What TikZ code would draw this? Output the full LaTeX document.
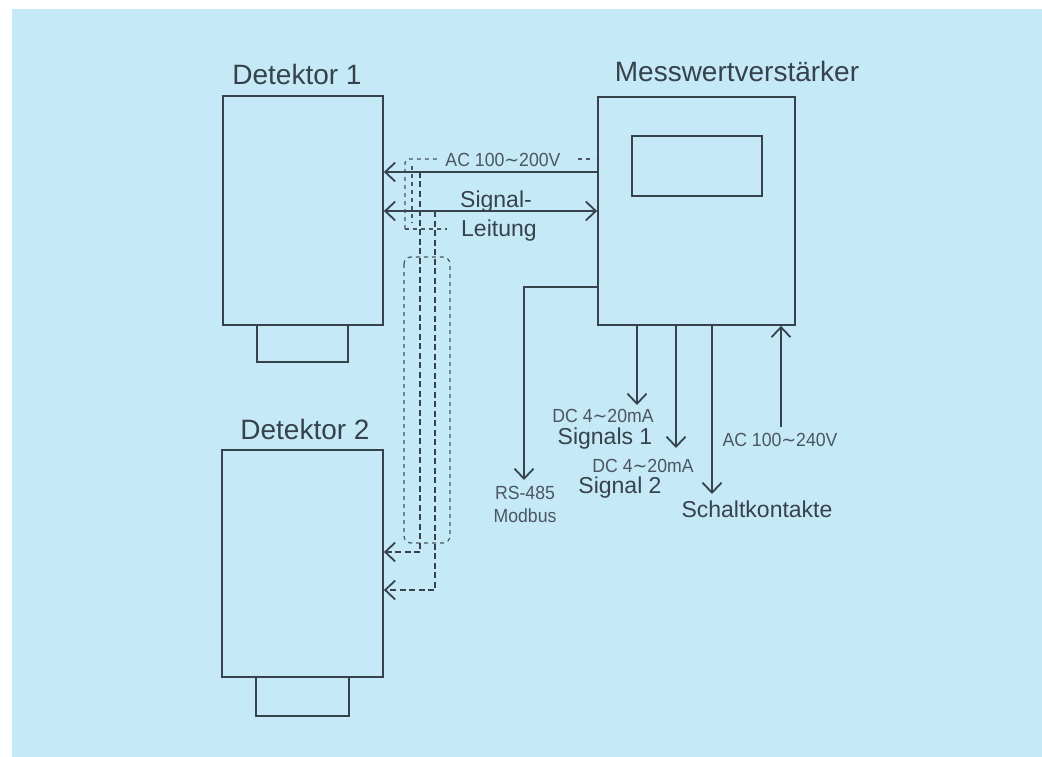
\documentclass[tikz,border=0pt]{standalone}
\usepackage{fontspec}
\setmainfont{Liberation Sans}
\newfontfamily\narrowsans[FakeStretch=0.93]{Liberation Sans}
\newfontfamily\djv[FakeStretch=0.93]{DejaVu Sans}
\usetikzlibrary{arrows.meta}
\definecolor{bg}{HTML}{C6E9F8}
\definecolor{ink}{HTML}{36424C}
\definecolor{inkl}{HTML}{4A5661}
\newcommand{\tld}{{\djv ∼}}
\begin{document}
\begin{tikzpicture}[x=1pt,y=-1pt,
  box/.style={draw=ink,line width=1.8pt,inner sep=0pt,fill=none},
  big/.style={font=\fontsize{28}{30}\selectfont,text=ink,inner sep=0pt},
  mid/.style={font=\fontsize{23}{26}\selectfont,text=ink,inner sep=0pt},
  sml/.style={font=\narrowsans\fontsize{19}{22}\selectfont,text=inkl,inner sep=0pt},
  wire/.style={draw=ink,line width=1.8pt},
  tip/.style={-{Straight Barb[length=10pt,width=19pt,line width=1.8pt]}},
  tips/.style={{Straight Barb[length=10pt,width=19pt,line width=1.8pt]}-{Straight Barb[length=10pt,width=19pt,line width=1.8pt]}},
  hdash/.style={draw=ink,line width=2pt,dash pattern=on 6pt off 3.5pt},
  tdash/.style={draw=inkl,line width=1.2pt,dash pattern=on 4pt off 4pt}
]
\useasboundingbox (0,0) rectangle (1042,757);
\fill[white] (0,0) rectangle (1042,757);
\fill[bg] (12,9) rectangle (1042,757);

% boxes
\node[box,minimum width=160pt,minimum height=229pt] (det1) at (303,210.5) {};
\node[box,minimum width=91pt,minimum height=37pt] (det1f) at (302.5,343.5) {};
\node[box,minimum width=161pt,minimum height=227pt] (det2) at (302.5,563.5) {};
\node[box,minimum width=93pt,minimum height=39pt] (det2f) at (302.5,696.5) {};
\node[box,minimum width=197pt,minimum height=228pt] (mw) at (696.5,211) {};
\node[box,minimum width=130pt,minimum height=60pt] (disp) at (697,166) {};

% titles
\node[big] (t1) at (297,74) {Detektor 1};
\node[big] (t2) at (305,429) {Detektor 2};
\node[big] (t3) at (737,71) {Messwertverstärker};

% reference coordinates
\coordinate (yac) at (0,172);
\coordinate (ysig) at (0,211);
\coordinate (yrs) at (0,287);
\coordinate (rsend) at (524,480);
\coordinate (s1) at (637,405);
\coordinate (s2) at (676,448);
\coordinate (s3) at (712,494);
\coordinate (acin) at (781,427);
\coordinate (c1) at (420,172);
\coordinate (c2) at (435,211);
\coordinate (y1) at (0,552);
\coordinate (y2) at (0,590);

% cable sheaths
\draw[tdash,rounded corners=4pt] (405,229) -- (405,159) -- (437,159);
\draw[tdash] (578,159) -- (594,159);
\draw[tdash] (412,166) -- (412,223);
\draw[tdash] (405,229) -- (447,229);
\draw[tdash,rounded corners=7pt] (404,257) rectangle (450,543);

% solid connectors
\draw[wire,tip] (mw.west |- yac) -- (det1.east |- yac);
\draw[wire,tips] (det1.east |- ysig) -- (mw.west |- ysig);
\draw[wire,tip] (mw.west |- yrs) -| (rsend);
\draw[wire,tip] (mw.south -| s1) -- (s1);
\draw[wire,tip] (mw.south -| s2) -- (s2);
\draw[wire,tip] (mw.south -| s3) -- (s3);
\draw[wire,tip] (acin) -- (mw.south -| acin);

% dashed cable to detector 2
\draw[hdash,tip] (c1) |- (det2.east |- y1);
\draw[hdash,tip] (c2) |- (det2.east |- y2);

% labels
\node[sml] (lac1) at (503,160) {AC 100\tld200V};
\node[mid,anchor=west] (lsig) at (460,202) {Signal-};
\node[mid,anchor=west] (lleit) at (461,231) {Leitung};
\node[sml,align=center] (lrs) at (525,504) {RS-485\\[1pt]Modbus};
\node[sml] (ldc1) at (603,416) {DC 4\tld20mA};
\node[mid] (ls1) at (605,439) {Signals 1};
\node[sml] (ldc2) at (643,466) {DC 4\tld20mA};
\node[mid] (ls2) at (620,488) {Signal 2};
\node[mid] (lsk) at (757,509) {Schaltkontakte};
\node[sml] (lac2) at (780,440) {AC 100\tld240V};
\end{tikzpicture}
\end{document}
